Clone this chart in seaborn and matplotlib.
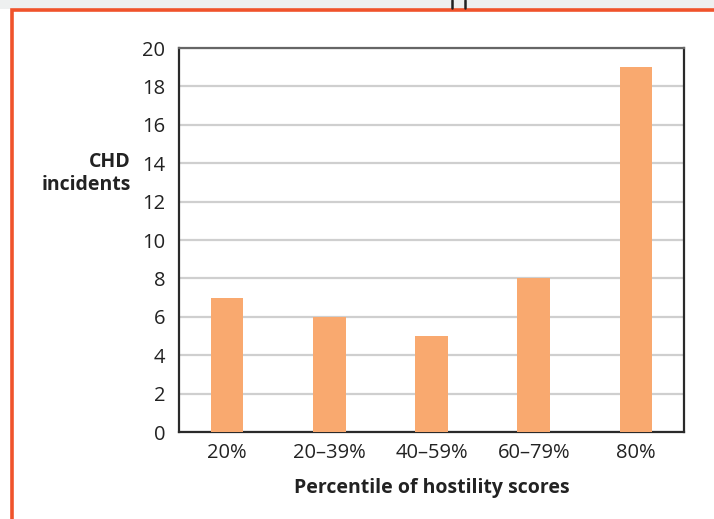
import matplotlib
matplotlib.use("Agg")
import matplotlib.pyplot as plt
import seaborn as sns
import pandas as pd
from matplotlib.patches import Rectangle
from matplotlib.lines import Line2D

categories = ["20%", "20–39%", "40–59%", "60–79%", "80%"]
chd_incidents = [7, 6, 5, 8, 19]
y_ticks = [0, 2, 4, 6, 8, 10, 12, 14, 16, 18, 20]

df = pd.DataFrame({"percentile": categories, "incidents": chd_incidents})

sns.set_theme(style="white")
plt.rcParams["font.family"] = ["Open Sans", "DejaVu Sans"]

W, H = 714, 519
fig = plt.figure(figsize=(W / 100, H / 100), dpi=100)
fig.patch.set_facecolor("white")

# panel frame: grey strip on top, orange border
fig.add_artist(Rectangle((0, 1 - 9 / H), 1, 9 / H, transform=fig.transFigure,
                         facecolor="#EEF0F0", edgecolor="none", zorder=0))
fig.add_artist(Rectangle((12 / W, -0.1), 1.2, 1 - 10 / H + 0.1, transform=fig.transFigure,
                         facecolor="none", edgecolor="#F0532B", linewidth=2.6, zorder=1))
for xp in (452, 465):
    fig.add_artist(Line2D([xp / W, xp / W], [1 - 8 / H, 1], transform=fig.transFigure,
                          color="#222222", linewidth=1.8))

ax = fig.add_axes([179 / W, 1 - 432 / H, (684 - 179) / W, (432 - 48) / H])
sns.barplot(data=df, x="percentile", y="incidents", color="#F9A96F",
            saturation=1, width=0.32, linewidth=0, ax=ax, zorder=3)

ax.set_xlim(-0.47, 4.47)
ax.set_ylim(0, 20)
ax.set_yticks(y_ticks)
ax.set_yticklabels([str(t) for t in y_ticks])
ax.yaxis.grid(True, color="#CFCFCF", linewidth=1.6, zorder=0)
ax.set_axisbelow(True)
ax.tick_params(axis="both", length=0, labelsize=14.5, labelcolor="#222222")
ax.tick_params(axis="y", pad=10)
ax.tick_params(axis="x", pad=8)

for side in ("left", "bottom", "right"):
    ax.spines[side].set_color("#2A2A2A")
    ax.spines[side].set_linewidth(1.6)
ax.spines["top"].set_color("#666666")
ax.spines["top"].set_linewidth(1.6)

ax.set_xlabel("Percentile of hostility scores", fontsize=14, fontweight="bold",
              color="#222222", labelpad=11)
ax.set_ylabel("")
fig.text(131 / W, 1 - 174 / H, "CHD\nincidents", ha="right", va="center",
         fontsize=14, fontweight="bold", color="#222222", linespacing=1.2)

fig.savefig("out.png", dpi=100)
